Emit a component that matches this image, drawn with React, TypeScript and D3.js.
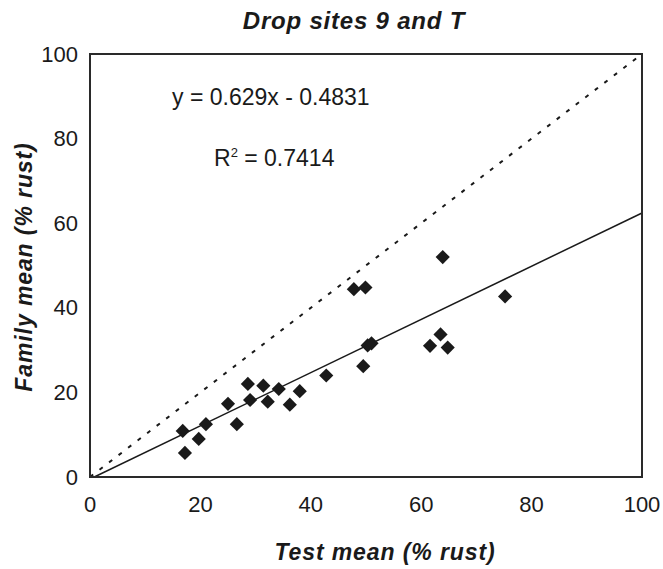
import React from "react";
import * as d3 from "d3";

const testMean = [16.8, 17.2, 19.7, 21.0, 25.0, 26.6, 28.6, 29.0, 31.4, 32.2, 34.2, 36.2, 38.0, 42.8, 47.8, 49.9, 49.5, 50.3, 51.0, 61.6, 63.5, 64.8, 63.9, 75.2];
const familyMean = [10.9, 5.7, 9.0, 12.5, 17.3, 12.5, 22.0, 18.2, 21.6, 17.8, 20.8, 17.1, 20.3, 24.0, 44.4, 44.8, 26.2, 31.1, 31.6, 31.0, 33.7, 30.6, 52.0, 42.7];
const xTicks = [0, 20, 40, 60, 80, 100];
const yTicks = [0, 20, 40, 60, 80, 100];
const slope = 0.629;
const intercept = -0.4831;
const rSquared = 0.7414;
const titleText = "Drop sites 9 and T";
const xTitle = "Test mean (% rust)";
const yTitle = "Family mean (% rust)";

const W = 663;
const H = 569;
const L = 90, R = 642, T = 54, B = 477;

export default function App() {
  const x = d3.scaleLinear().domain([0, 100]).range([L, R]);
  const y = d3.scaleLinear().domain([0, 100]).range([B, T]);
  const line = d3.line<[number, number]>().x((d) => x(d[0])).y((d) => y(d[1]));
  const fitPts: [number, number][] = [[0.77, 0], [100, slope * 100 + intercept]];
  const idPts: [number, number][] = [[0, 0], [100, 100]];
  const diamond = d3.symbol().type(d3.symbolDiamond2).size(128)();
  const font = "Arial, 'Liberation Sans', Helvetica, sans-serif";
  const ink = "#1a1a1a";
  return (
    <svg width={W} height={H} style={{ position: "absolute", left: 0, top: 0, background: "#fff" }} fontFamily={font}>
      <rect x={0} y={0} width={W} height={H} fill="#fff" />
      <text x={354} y={29} textAnchor="middle" fontSize={24} fontWeight="bold" fontStyle="italic" letterSpacing={0.8} fill={ink}>{titleText}</text>
      <path d={line(idPts) || ""} fill="none" stroke={ink} strokeWidth={2} strokeDasharray="4,8" />
      <path d={line(fitPts) || ""} fill="none" stroke={ink} strokeWidth={1.5} />
      {testMean.map((v, i) => (
        <path key={i} d={diamond} transform={`translate(${x(v)},${y(familyMean[i])})`} fill={ink} />
      ))}
      <rect x={L} y={T} width={R - L} height={B - T} fill="none" stroke="#2a2a2a" strokeWidth={2} />
      {yTicks.map((t) => (
        <text key={t} x={L - 12} y={y(t)} textAnchor="end" dominantBaseline="central" fontSize={22} fill={ink}>{t}</text>
      ))}
      {xTicks.map((t) => (
        <text key={t} x={x(t)} y={504} textAnchor="middle" dominantBaseline="central" fontSize={22} fill={ink}>{t}</text>
      ))}
      <text x={385} y={560} textAnchor="middle" fontSize={23} fontWeight="bold" fontStyle="italic" letterSpacing={0.9} fill={ink}>{xTitle}</text>
      <text transform={`translate(32,${267}) rotate(-90)`} textAnchor="middle" fontSize={23} fontWeight="bold" fontStyle="italic" letterSpacing={0.9} fill={ink}>{yTitle}</text>
      <text x={172} y={105} fontSize={23} fill={ink}>{`y = ${slope}x - ${Math.abs(intercept)}`}</text>
      <text x={214} y={166} fontSize={23} fill={ink}>R<tspan fontSize={13} dy={-9}>2</tspan><tspan dy={9}>{` = ${rSquared}`}</tspan></text>
    </svg>
  );
}
